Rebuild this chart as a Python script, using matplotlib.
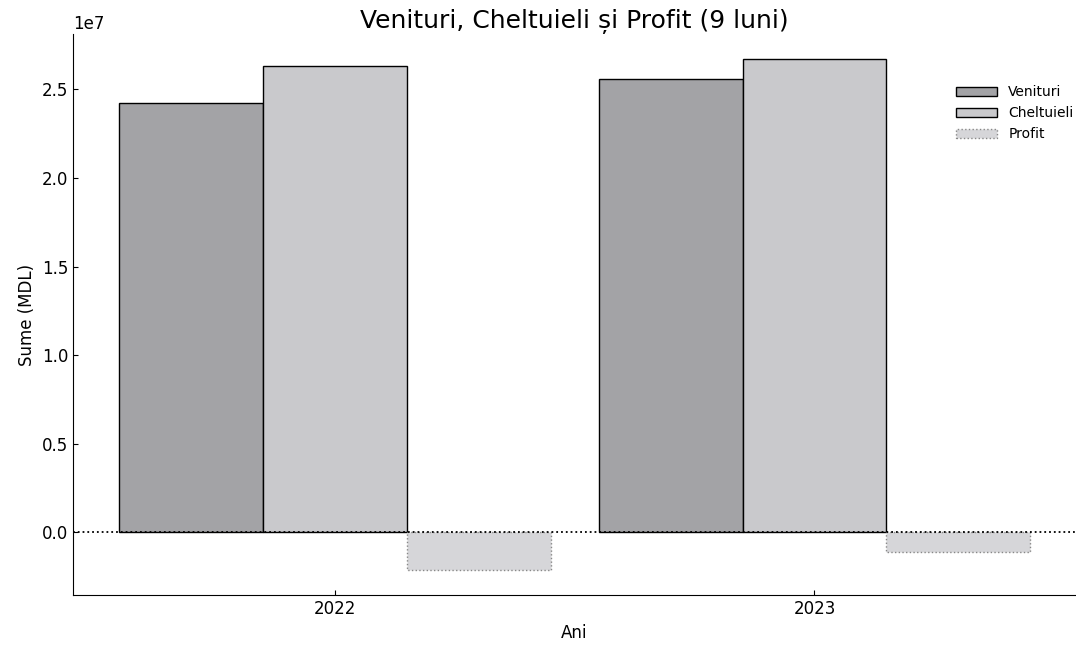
import numpy as np
import matplotlib.pyplot as plt

ani = ['2022', '2023']
venituri = [2.42e7, 2.56e7]
cheltuieli = [2.63e7, 2.67e7]
profit = [-0.21e7, -0.11e7]

x = np.arange(len(ani))
w = 0.3

fig = plt.figure(figsize=(10.76, 6.47), dpi=100)
ax = fig.add_axes([0.068, 0.08, 0.932, 0.868])

ax.bar(x - w, venituri, w, label='Venituri', color='#a3a3a6', edgecolor='black', linewidth=1)
ax.bar(x, cheltuieli, w, label='Cheltuieli', color='#c9c9cc', edgecolor='black', linewidth=1)
ax.bar(x + w, profit, w, label='Profit', color='#d6d6d9', edgecolor='#888888', linewidth=1, linestyle=':')
ax.axhline(0, color='black', linestyle=':', linewidth=1.3)

ax.set_xticks(x)
ax.set_xticklabels(ani)
ax.tick_params(direction='in', labelsize=12)
ax.yaxis.get_offset_text().set_fontsize(12)
ax.set_xlabel('Ani', fontsize=12)
ax.set_ylabel('Sume (MDL)', fontsize=12)
ax.set_title('Venituri, Cheltuieli și Profit (9 luni)', fontsize=18, pad=-3)
ax.spines['top'].set_visible(False)
ax.spines['right'].set_visible(False)

ax.legend(loc='upper right', bbox_to_anchor=(1.01, 0.93), frameon=False,
          fontsize=10, handlelength=3)

fig.savefig('out.png', dpi=100)
